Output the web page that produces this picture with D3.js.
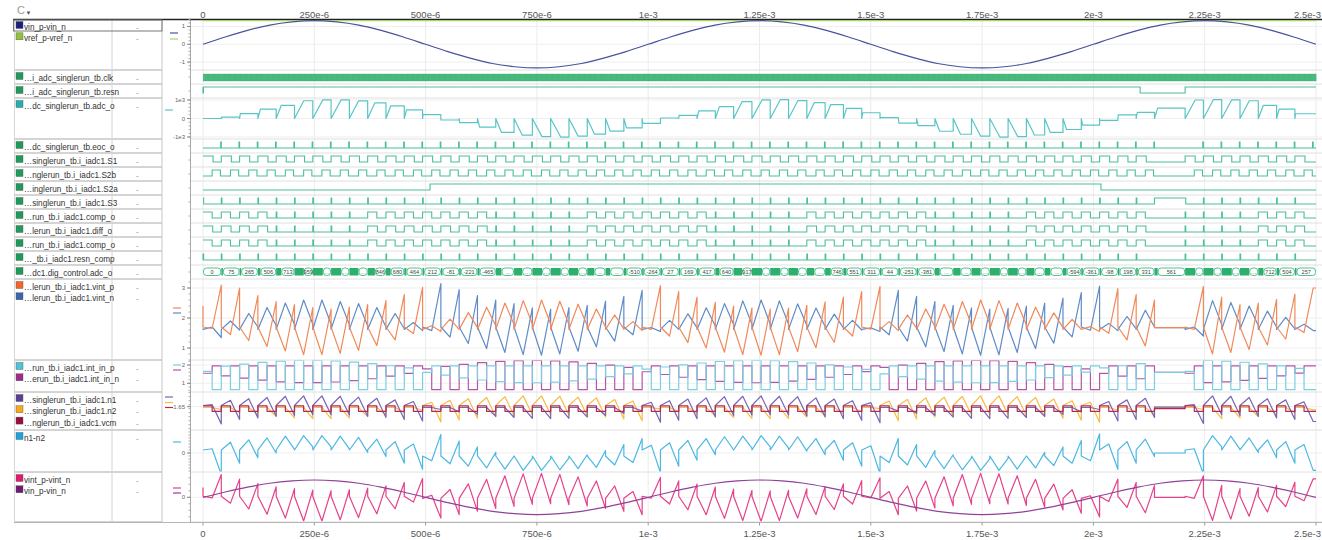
<!DOCTYPE html>
<meta charset="utf-8" />
<style>
  body { margin: 0; padding: 0; background: #fff; }
  svg { display: block; font-family: "Liberation Sans", Arial, sans-serif; }
  .name { font-size: 8.2px; fill: #333; }
  .val { font-size: 8px; fill: #888; }
  .tick { font-size: 6px; fill: #666; }
  .time { font-size: 9.5px; fill: #555; }
  .bus text { font-size: 5.6px; fill: #444; }
</style>
<svg width="1322" height="540"></svg>
<script src="https://d3js.org/d3.v7.min.js"></script>
<script>
const timeTicks = [0, 250e-6, 500e-6, 750e-6, 1e-3, 1.25e-3, 1.5e-3, 1.75e-3, 2e-3, 2.25e-3, 2.5e-3];
const timeLabels = ["0", "250e-6", "500e-6", "750e-6", "1e-3", "1.25e-3", "1.5e-3", "1.75e-3", "2e-3", "2.25e-3", "2.5e-3"];

// conversion timing
const T = 41.1e-6;          // one conversion cycle
const preCycles = 52;       // cycles before the reset pulse
const postCycles = 7;       // cycles after it
const tPost = 2.206e-3;     // first cycle after reset
const resnLow = [[0, 1e-6], [2.105e-3, 2.206e-3]];
const s2aHigh = [[0.51e-3, 2.017e-3]];

// vin_p-vin_n sampled every 50us, vref_p-vref_n
const vinStep = 50e-6;
const vinValues = [0, 0.41, 0.78, 1.08, 1.26, 1.33, 1.26, 1.08, 0.78, 0.41, 0, -0.41, -0.78, -1.08, -1.26, -1.33, -1.26, -1.08, -0.78, -0.41,
  0, 0.41, 0.78, 1.08, 1.26, 1.33, 1.26, 1.08, 0.78, 0.41, 0, -0.41, -0.78, -1.08, -1.26, -1.33, -1.26, -1.08, -0.78, -0.41,
  0, 0.41, 0.78, 1.08, 1.26, 1.33, 1.26, 1.08, 0.78, 0.41, 0];
const vrefValue = 1.33;

// adc_o code per bus segment and the bus labels as shown
const adcCodes = [0, 75, 265, 506, 713, 959, 1012, 1008, 951, 846, 680, 464, 212, -81, -221, -465,
  -754, -903, -981, -1002, -953, -842, -683, -510, -264, 27, 169, 417, 640, 917,
  1003, 1017, 968, 862, 746, 551, 311, 44, -251, -381,
  -688, -851, -949, -1004, -982, -893, -752, -594, -361, -98, 198, 331, 561,
  1000, 1024, 1010, 960, 712, 504, 257];
const busLabels = ["0", "75", "265", "506", "713", "959", "…", "…", "…", "846", "680", "464", "212", "-81", "-221", "-465",
  "…", "…", "…", "…", "…", "…", "…", "-510", "-264", "27", "169", "417", "640", "917",
  "…", "…", "…", "…", "746", "551", "311", "44", "-251", "-381",
  "…", "…", "…", "…", "…", "…", "…", "-594", "-361", "-98", "198", "331", "561",
  "…", "…", "…", "…", "712", "504", "257"];

// which integrator side is active in each cycle (P = vint_p / n1 / int_in_p)
const polarity = "PPPPPPPPPPPP" + "NNNNNNNNNNNN" + "PPPPPPPPPPPPP" + "NNNNNNNNNNNN" + "PPP" + "PPPPPPP";
// comparator pattern per cycle (S = half-cycle pulse, P = narrow pulse)
const compMode = "SSSS" + "PPPPP" + "SSSSSSS" + "PPPPP" + "SSSSSSS" + "PPPPP" + "SSSSSSS" + "PPPPP" + "SSSSSSS" + "PPPPSSS";

// integrator outputs: spiking side (start, mid minimum, end peak), other side (start, mid peak, end)
const spikeStart = 1.7, zigStart = 1.62, vintRest = 1.68;
const spikeMin = [1.65, 1.45, 1.25, 1.05, 0.90, 0.78, 0.78, 0.82, 0.92, 1.08, 1.27, 1.48,
  1.58, 1.36, 1.15, 0.98, 0.85, 0.78, 0.76, 0.80, 0.89, 1.04, 1.23, 1.44,
  1.62, 1.40, 1.18, 1.00, 0.86, 0.78, 0.76, 0.78, 0.88, 1.01, 1.19, 1.40, 1.63,
  1.44, 1.23, 1.04, 0.88, 0.80, 0.76, 0.77, 0.85, 0.98, 1.16, 1.37, 1.59,
  1.49, 1.27, 1.07,
  1.62, 0.80, 0.85, 0.95, 1.10, 1.30, 1.52];
const spikePeak = [3.10, 3.00, 2.75, 2.55, 2.45, 2.35, 2.30, 2.36, 2.45, 2.58, 2.78, 3.02,
  3.15, 2.95, 2.75, 2.60, 2.48, 2.34, 2.30, 2.35, 2.42, 2.56, 2.72, 2.92,
  3.08, 2.88, 2.70, 2.52, 2.40, 2.33, 2.30, 2.33, 2.42, 2.54, 2.70, 2.88, 3.05,
  2.92, 2.72, 2.55, 2.42, 2.34, 2.30, 2.32, 2.40, 2.50, 2.66, 2.85, 3.06,
  2.98, 2.78, 2.60,
  3.05, 2.70, 2.45, 2.50, 2.62, 2.80, 3.00];
const zigPeak = [1.70, 1.90, 2.15, 2.35, 2.50, 2.60, 2.60, 2.55, 2.48, 2.35, 2.15, 1.85,
  1.74, 1.96, 2.18, 2.36, 2.50, 2.58, 2.60, 2.56, 2.46, 2.30, 2.10, 1.88,
  1.68, 1.92, 2.14, 2.34, 2.48, 2.57, 2.60, 2.57, 2.47, 2.33, 2.13, 1.92, 1.67,
  1.88, 2.10, 2.30, 2.46, 2.55, 2.60, 2.58, 2.50, 2.36, 2.17, 1.95, 1.71,
  1.82, 2.05, 2.26,
  1.70, 2.58, 2.52, 2.40, 2.23, 2.02, 1.79];
const zigEnd = [1.35, 1.60, 1.70, 1.74, 1.78, 1.80, 1.80, 1.78, 1.74, 1.70, 1.64, 1.58,
  1.55, 1.62, 1.68, 1.74, 1.78, 1.80, 1.80, 1.78, 1.75, 1.70, 1.64, 1.58,
  1.55, 1.62, 1.68, 1.73, 1.78, 1.80, 1.80, 1.80, 1.76, 1.72, 1.67, 1.60, 1.55,
  1.58, 1.66, 1.72, 1.76, 1.79, 1.80, 1.80, 1.77, 1.74, 1.68, 1.62, 1.55,
  1.58, 1.64, 1.70,
  1.40, 1.78, 1.78, 1.75, 1.70, 1.64, 1.58];

// integrator inputs n1 / n2 (active side: start, mid peak, end; passive side: flat then end)
const nActiveStart = 1.68, nPassiveStart = 1.63, nRest = 1.64;
const activePeak = [1.70, 1.81, 1.85, 1.88, 1.91, 1.92, 1.92, 1.91, 1.89, 1.86, 1.82, 1.78,
  1.76, 1.81, 1.85, 1.88, 1.90, 1.92, 1.92, 1.91, 1.89, 1.87, 1.83, 1.79,
  1.76, 1.80, 1.84, 1.87, 1.90, 1.91, 1.92, 1.91, 1.90, 1.87, 1.84, 1.80, 1.75,
  1.79, 1.83, 1.87, 1.89, 1.91, 1.92, 1.92, 1.90, 1.88, 1.84, 1.80, 1.76,
  1.78, 1.82, 1.86,
  1.70, 1.92, 1.91, 1.88, 1.85, 1.82, 1.77];
const activeEnd = [1.22, 1.33, 1.37, 1.41, 1.43, 1.45, 1.45, 1.44, 1.41, 1.38, 1.33, 1.29,
  1.27, 1.32, 1.36, 1.40, 1.43, 1.45, 1.45, 1.44, 1.42, 1.39, 1.34, 1.30,
  1.26, 1.31, 1.35, 1.39, 1.43, 1.44, 1.45, 1.44, 1.42, 1.39, 1.35, 1.31, 1.25,
  1.30, 1.34, 1.39, 1.42, 1.44, 1.45, 1.45, 1.43, 1.40, 1.36, 1.31, 1.26,
  1.29, 1.33, 1.38,
  1.23, 1.45, 1.43, 1.41, 1.37, 1.33, 1.28];
const passiveEnd = [1.58, 1.50, 1.45, 1.41, 1.37, 1.35, 1.35, 1.37, 1.40, 1.44, 1.50, 1.56,
  1.58, 1.52, 1.46, 1.41, 1.38, 1.36, 1.35, 1.36, 1.39, 1.43, 1.48, 1.54,
  1.59, 1.53, 1.47, 1.42, 1.38, 1.36, 1.35, 1.36, 1.39, 1.42, 1.47, 1.53, 1.60,
  1.54, 1.48, 1.43, 1.39, 1.36, 1.35, 1.36, 1.38, 1.41, 1.46, 1.52, 1.58,
  1.56, 1.50, 1.44,
  1.58, 1.35, 1.37, 1.40, 1.45, 1.50, 1.57];
const vcmLevels = [1.67, 1.535];

// int_in_p / int_in_n: first half levels per cycle, second half floor / ceiling
const intFloor = 0.65, intCeil = 1.95, intRest = 1.6;
const intHigh = [1.65, 1.94, 2.05, 2.14, 2.21, 2.25, 2.25, 2.22, 2.16, 2.07, 1.96, 1.84,
  1.79, 1.92, 2.03, 2.13, 2.20, 2.24, 2.25, 2.23, 2.17, 2.09, 1.99, 1.87,
  1.77, 1.89, 2.01, 2.11, 2.19, 2.24, 2.25, 2.24, 2.18, 2.11, 2.01, 1.89, 1.76,
  1.87, 1.99, 2.09, 2.18, 2.23, 2.25, 2.24, 2.20, 2.13, 2.03, 1.91, 1.79,
  1.84, 1.96, 2.07,
  1.65, 2.25, 2.21, 2.15, 2.06, 1.95, 1.82];
const intLow = [1.55, 1.41, 1.28, 1.17, 1.08, 1.04, 1.04, 1.07, 1.15, 1.25, 1.39, 1.54,
  1.60, 1.45, 1.30, 1.18, 1.09, 1.04, 1.03, 1.06, 1.13, 1.23, 1.36, 1.51,
  1.63, 1.48, 1.33, 1.20, 1.10, 1.05, 1.03, 1.05, 1.12, 1.21, 1.33, 1.48, 1.64,
  1.51, 1.36, 1.23, 1.12, 1.06, 1.03, 1.04, 1.10, 1.18, 1.31, 1.45, 1.61,
  1.54, 1.39, 1.25,
  1.55, 1.04, 1.08, 1.16, 1.27, 1.41, 1.56];

// signal names per row
const signalNames = [
  ["vin_p-vin_n", "vref_p-vref_n"],
  ["…i_adc_singlerun_tb.clk"],
  ["…i_adc_singlerun_tb.resn"],
  ["…dc_singlerun_tb.adc_o"],
  ["…dc_singlerun_tb.eoc_o"],
  ["…singlerun_tb.i_iadc1.S1"],
  ["…nglerun_tb.i_iadc1.S2b"],
  ["…inglerun_tb.i_iadc1.S2a"],
  ["…singlerun_tb.i_iadc1.S3"],
  ["…run_tb.i_iadc1.comp_o"],
  ["…lerun_tb.i_iadc1.diff_o"],
  ["…run_tb.i_iadc1.comp_o"],
  ["…_tb.i_iadc1.resn_comp"],
  ["…dc1.dig_control.adc_o"],
  ["…lerun_tb.i_iadc1.vint_p", "…lerun_tb.i_iadc1.vint_n"],
  ["…run_tb.i_iadc1.int_in_p", "…erun_tb.i_iadc1.int_in_n"],
  ["…singlerun_tb.i_iadc1.n1", "…singlerun_tb.i_iadc1.n2", "…nglerun_tb.i_iadc1.vcm"],
  ["n1-n2"],
  ["vint_p-vint_n", "vin_p-vin_n"]
];

// ---------- layout ----------
const DIG_SW = "#1e9b5a", DIG = "#4cc093";
const rows = [
  { top: 19, bottom: 70, domain: [-1.444, 1.421], ticks: [1, 0, -1], dashX: 170, dashY: [33, 39], sw: ["#1b1f7e", "#8cc43c"], col: ["#4a529e", "#a8d46f"] },
  { top: 70, bottom: 84, dig: true }, { top: 84, bottom: 98, dig: true },
  { top: 98, bottom: 139, domain: [-1108, 1108], ticks: [1000, 0, -1000], tickText: ["1e3", "0", "-1e3"], dashX: 165, dashY: [110], sw: ["#1fb0b3"], col: ["#5ac5c5"] },
  { top: 139, bottom: 153, dig: true }, { top: 153, bottom: 167, dig: true }, { top: 167, bottom: 181, dig: true },
  { top: 181, bottom: 195, dig: true }, { top: 195, bottom: 209, dig: true }, { top: 209, bottom: 223, dig: true },
  { top: 223, bottom: 237, dig: true }, { top: 237, bottom: 251, dig: true }, { top: 251, bottom: 265, dig: true },
  { top: 265, bottom: 279, dig: true },
  { top: 279, bottom: 360, domain: [0.6, 3.3], ticks: [3, 2, 1], dashX: 173, dashY: [308, 313], sw: ["#f0652a", "#3b64ae"], col: ["#f0895a", "#5f8bc7"] },
  { top: 360, bottom: 392, domain: [0.525, 2.273], ticks: [2, 1], dashX: 173, dashY: [365, 370], sw: ["#4fc3d9", "#9c2a8c"], col: ["#78d0e2", "#b455a8"] },
  { top: 392, bottom: 430, domain: [1.067, 2.017], ticks: [1.65], dashX: 165, dashY: [397, 402.5, 407.5], sw: ["#5a3f97", "#f6a821", "#9b0d3a"], col: ["#7c64b3", "#f6bc45", "#b3284f"] },
  { top: 430, bottom: 472, domain: [-0.317, 0.383], ticks: [0], dashX: 173, dashY: [442], sw: ["#1aa3de"], col: ["#4cb8e3"] },
  { top: 472, bottom: 522, domain: [-1.9, 1.946], ticks: [0], dashX: 173, dashY: [488, 493], sw: ["#e5176f", "#6f1c70"], col: ["#e6418a", "#93409a"] }
];
rows.forEach((r, i) => {
  r.names = signalNames[i];
  if (r.dig) { r.sw = [DIG_SW]; r.hi = r.top + 3; r.lo = r.top + 9; }
  if (r.domain) r.y = d3.scaleLinear().domain(r.domain).range([r.bottom, r.top]);
});

const svg = d3.select("svg");
const x = d3.scaleLinear().domain([0, 2.5e-3]).range([203, 1316]);
const tEnd = 2.5e-3;
const nCycles = preCycles + postCycles;
const resetStart = preCycles * T;
const cycleStart = k => (k < preCycles ? k * T : tPost + (k - preCycles) * T);

// clip per row
const defs = svg.append("defs");
rows.forEach((r, i) => {
  defs.append("clipPath").attr("id", "clip" + i).append("rect")
    .attr("x", 191).attr("y", r.top + 0.5).attr("width", 1131).attr("height", r.bottom - r.top - 1);
});

// ---------- grid and frame ----------
const grid = svg.append("g");
grid.selectAll("line.vg").data(timeTicks).join("line")
  .attr("x1", d => x(d)).attr("x2", d => x(d)).attr("y1", 20).attr("y2", 522)
  .attr("stroke", "#ececec");
rows.filter(r => r.ticks).forEach(r => {
  grid.selectAll(null).data(r.ticks).join("line")
    .attr("x1", 191).attr("x2", 1322).attr("y1", d => r.y(d)).attr("y2", d => r.y(d))
    .attr("stroke", "#efefef");
});
rows.forEach(r => {
  grid.append("line").attr("x1", 190).attr("x2", 1322).attr("y1", r.bottom).attr("y2", r.bottom).attr("stroke", "#e0e0e0");
  grid.append("line").attr("x1", 15).attr("x2", 162).attr("y1", r.bottom).attr("y2", r.bottom).attr("stroke", "#c6c6c6").attr("stroke-width", 1.5);
});
[[14.5, "#d6d6d6"], [112, "#d4d4d4"], [162, "#c8c8c8"], [190.5, "#a8a8a8"]].forEach(([xx, c]) => {
  grid.append("line").attr("x1", xx).attr("x2", xx).attr("y1", 19).attr("y2", 522).attr("stroke", c);
});
svg.append("line").attr("x1", 13).attr("x2", 1322).attr("y1", 19.5).attr("y2", 19.5).attr("stroke", "#222").attr("stroke-width", 1.4);
svg.append("line").attr("x1", 14).attr("x2", 1322).attr("y1", 522.5).attr("y2", 522.5).attr("stroke", "#b5b5b5");
svg.append("rect").attr("x", 13.5).attr("y", 20).attr("width", 148.5).attr("height", 11).attr("fill", "none").attr("stroke", "#777");

// toolbar glyph
svg.append("text").attr("x", 17).attr("y", 14).attr("font-size", 11).attr("fill", "#999").text("C");
svg.append("text").attr("x", 25.5).attr("y", 15).attr("font-size", 6).attr("fill", "#555").text("▼");

// ---------- names, swatches, values ----------
const names = svg.append("g");
rows.forEach(r => {
  r.names.forEach((n, j) => {
    const cy = r.top + 8 + j * 11.3;
    names.append("rect").attr("x", 16).attr("y", cy - 5.5).attr("width", 7).attr("height", 7)
      .attr("fill", r.sw[j] || r.sw[0]).attr("stroke", "#555").attr("stroke-width", 0.4);
    names.append("text").attr("class", "name").attr("x", 24).attr("y", cy + 3).text(n);
    names.append("text").attr("class", "val").attr("x", 136).attr("y", cy + 3).text("-");
  });
});

// ---------- y axis ticks and legend dashes ----------
const axisG = svg.append("g");
rows.forEach(r => {
  if (r.ticks) {
    axisG.selectAll(null).data(r.y.ticks(10)).join("line")
      .attr("x1", 188.5).attr("x2", 190.5).attr("y1", d => r.y(d)).attr("y2", d => r.y(d)).attr("stroke", "#aaa");
    axisG.selectAll(null).data(r.ticks).join("line")
      .attr("x1", 187).attr("x2", 190.5).attr("y1", d => r.y(d)).attr("y2", d => r.y(d)).attr("stroke", "#888");
    axisG.selectAll(null).data(r.ticks).join("text").attr("class", "tick")
      .attr("x", 185).attr("y", d => r.y(d) + 2).attr("text-anchor", "end")
      .text((d, i) => (r.tickText ? r.tickText[i] : d));
    r.dashY.forEach((dy, j) => {
      axisG.append("line").attr("x1", r.dashX).attr("x2", r.dashX + 8).attr("y1", dy).attr("y2", dy)
        .attr("stroke", r.col[j]).attr("stroke-width", 1.2);
    });
  } else {
    axisG.append("line").attr("x1", 188.5).attr("x2", 190.5).attr("y1", (r.top + r.bottom) / 2).attr("y2", (r.top + r.bottom) / 2).attr("stroke", "#aaa");
  }
});

// ---------- time axes ----------
const lastTick = timeTicks.length - 1;
[17.5, 537].forEach(ty => {
  svg.append("g").selectAll("text").data(timeTicks).join("text").attr("class", "time")
    .attr("x", (d, i) => (i === lastTick ? 1321 : x(d))).attr("y", ty)
    .attr("text-anchor", (d, i) => (i === lastTick ? "end" : "middle"))
    .text((d, i) => timeLabels[i]);
});
svg.selectAll("line.tb").data(timeTicks).join("line")
  .attr("x1", d => x(d)).attr("x2", d => x(d)).attr("y1", 522.5).attr("y2", 525.5).attr("stroke", "#999");

// ---------- waveform builders ----------
function digital(perCycle, resetLevel, initial) {
  const ev = [[0, initial]];
  for (let k = 0; k < nCycles; k++) {
    if (k === preCycles) ev.push([resetStart, resetLevel]);
    perCycle(k, cycleStart(k), ev);
  }
  ev.push([tEnd, ev[ev.length - 1][1]]);
  return ev;
}
function fromEdges(spans, insideLevel) {
  const ev = [[0, 1 - insideLevel]];
  spans.forEach(([a, b]) => ev.push([a, insideLevel], [b, 1 - insideLevel]));
  ev.push([tEnd, 1 - insideLevel]);
  return ev;
}
function analog(shape, rest, initial) {
  const pts = [];
  if (initial !== undefined) pts.push([0, initial]);
  for (let k = 0; k < nCycles; k++) {
    if (k === preCycles) pts.push([resetStart, rest], [tPost, rest]);
    const t0 = cycleStart(k);
    shape(k).forEach(([f, v]) => pts.push([t0 + f * T, v]));
  }
  pts.push([tEnd, pts[pts.length - 1][1]]);
  return pts;
}
const diffOf = (a, b) => a.map((d, i) => [d[0], d[1] - b[i][1]]);
const isP = k => polarity[k] === "P";
const narrow = 0.035 * T;

// digital signals
const clkHalf = T / 40;
const clkEv = [];
for (let t = 0, lv = 1; t < tEnd; t += clkHalf, lv = 1 - lv) clkEv.push([t, lv]);
clkEv.push([tEnd, 0]);

const dig = {
  1: clkEv,
  2: fromEdges(resnLow, 0),
  4: digital((k, t0, ev) => ev.push([t0, 0], [t0 + T - narrow, 1], [t0 + T, 0]), 0, 0),
  5: digital((k, t0, ev) => ev.push([t0, 1], [t0 + 0.55 * T, 0]), 0, 1),
  6: digital((k, t0, ev) => ev.push([t0, 0], [t0 + 0.5 * T, 1], [t0 + 0.95 * T, 0]), 0, 0),
  7: fromEdges(s2aHigh, 1),
  8: digital((k, t0, ev) => ev.push([t0, 1], [t0 + narrow, 0]), 1, 1),
  9: digital((k, t0, ev) => ev.push([t0, 1], [t0 + (compMode[k] === "S" ? 0.5 * T : narrow), 0]), 0, 1),
  10: digital((k, t0, ev) => ev.push([t0, 1], [t0 + (compMode[k] === "S" ? 0.53 * T : narrow), 0]), 0, 1),
  11: digital((k, t0, ev) => ev.push([t0, 1], [t0 + (compMode[k] === "S" ? 0.5 * T : narrow), 0]), 0, 1),
  12: digital((k, t0, ev) => ev.push([t0, 1], [t0 + narrow, 0]), 0, 0)
};

// analog signals
const spikeShape = k => [[0, spikeStart], [0.5, spikeMin[k]], [1, spikePeak[k]]];
const zigShape = k => [[0, zigStart], [0.5, zigPeak[k]], [1, zigEnd[k]]];
const vintP = analog(k => (isP(k) ? spikeShape(k) : zigShape(k)), vintRest, 2.4);
const vintN = analog(k => (isP(k) ? zigShape(k) : spikeShape(k)), vintRest, 1.65);

const activeShape = k => [[0, nActiveStart], [0.5, activePeak[k]], [1, activeEnd[k]]];
const passiveShape = k => [[0, nPassiveStart], [0.5, nPassiveStart], [1, passiveEnd[k]]];
const n1 = analog(k => (isP(k) ? activeShape(k) : passiveShape(k)), nRest);
const n2 = analog(k => (isP(k) ? passiveShape(k) : activeShape(k)), nRest);
const vcm = analog(() => [[0, vcmLevels[0]], [0.5, vcmLevels[0]], [0.5, vcmLevels[1]], [1, vcmLevels[1]]], 1.6);

const hiHalf = k => [[0, intHigh[k]], [0.5, intHigh[k]], [0.5, intFloor], [1, intFloor]];
const loHalf = k => [[0, intLow[k]], [0.5, intLow[k]], [0.5, intCeil], [1, intCeil]];
const intP = analog(k => (isP(k) ? hiHalf(k) : loHalf(k)), intRest);
const intN = analog(k => (isP(k) ? loHalf(k) : hiHalf(k)), intRest);

const vin = vinValues.map((v, i) => [i * vinStep, v]);
const vref = [[0, vrefValue], [tEnd, vrefValue]];

// bus segments
const segs = adcCodes.map((c, i) => {
  let t0, t1;
  if (i <= preCycles) { t0 = i * T; t1 = i < preCycles ? (i + 1) * T : tPost; }
  else { t0 = tPost + (i - preCycles - 1) * T; t1 = i === adcCodes.length - 1 ? tEnd : t0 + T; }
  const d = T * 0.55 * Math.min(1, (Math.abs(c) / 1000) ** 2);
  return { t0, t1, d, code: c, label: busLabels[i] };
});
const adcTrace = [];
segs.forEach(s => adcTrace.push([s.t0, 0], [s.t0 + s.d, s.code], [s.t1, s.code]));

// ---------- draw ----------
const plot = svg.append("g");
function drawAnalog(ri, data, color, curve) {
  const r = rows[ri];
  plot.append("path").attr("clip-path", `url(#clip${ri})`).datum(data)
    .attr("fill", "none").attr("stroke", color).attr("stroke-width", 1.2).attr("stroke-linejoin", "round")
    .attr("d", d3.line().curve(curve || d3.curveLinear).x(d => x(d[0])).y(d => r.y(d[1])));
}
function drawDigital(ri, ev, width) {
  const r = rows[ri];
  plot.append("path").datum(ev).attr("fill", "none").attr("stroke", ri === 1 ? "#2fb06c" : DIG)
    .attr("stroke-width", width || 1.1)
    .attr("d", d3.line().curve(d3.curveStepAfter).x(d => x(d[0])).y(d => (d[1] ? r.hi + (ri === 1 ? 1 : 0) : r.lo + (ri === 1 ? 2 : 0))));
}

drawAnalog(0, vref, rows[0].col[1]);
drawAnalog(0, vin, rows[0].col[0], d3.curveCatmullRom);
drawDigital(1, dig[1], 0.7);
[2, 4, 5, 6, 7, 8, 9, 10, 11, 12].forEach(i => drawDigital(i, dig[i]));
drawAnalog(3, adcTrace, rows[3].col[0]);

// bus row
const busRow = rows[13];
const bus = plot.append("g").attr("class", "bus");
const by0 = busRow.top + 3, bh = 7.5;
const boxStart = s => Math.max(x(s.t0 + s.d), x(s.t0) + (s.code !== 0 ? 1.6 : 0));
bus.selectAll("rect.blk").data(segs.filter(s => s.code !== 0)).join("rect")
  .attr("x", s => x(s.t0)).attr("y", by0).attr("height", bh)
  .attr("width", s => Math.max(1.6, x(s.t0 + s.d) - x(s.t0)))
  .attr("fill", "#2db06b");
bus.selectAll("rect.box").data(segs).join("rect")
  .attr("x", s => boxStart(s) + 0.5).attr("y", by0).attr("height", bh)
  .attr("width", s => Math.max(1, x(s.t1) - boxStart(s) - 1))
  .attr("rx", 3).attr("fill", "#fff").attr("stroke", "#3dba84").attr("stroke-width", 0.9);
bus.selectAll("text").data(segs).join("text")
  .attr("x", s => (boxStart(s) + x(s.t1)) / 2).attr("y", by0 + 5.6)
  .attr("text-anchor", "middle").text(s => s.label);

drawAnalog(14, vintN, rows[14].col[1]);
drawAnalog(14, vintP, rows[14].col[0]);
drawAnalog(15, intN, rows[15].col[1]);
drawAnalog(15, intP, rows[15].col[0]);
drawAnalog(16, n2, rows[16].col[1]);
drawAnalog(16, n1, rows[16].col[0]);
drawAnalog(16, vcm, rows[16].col[2]);
drawAnalog(17, diffOf(n1, n2), rows[17].col[0]);
drawAnalog(18, diffOf(vintP, vintN), rows[18].col[0]);
drawAnalog(18, vin, rows[18].col[1], d3.curveCatmullRom);
</script>
